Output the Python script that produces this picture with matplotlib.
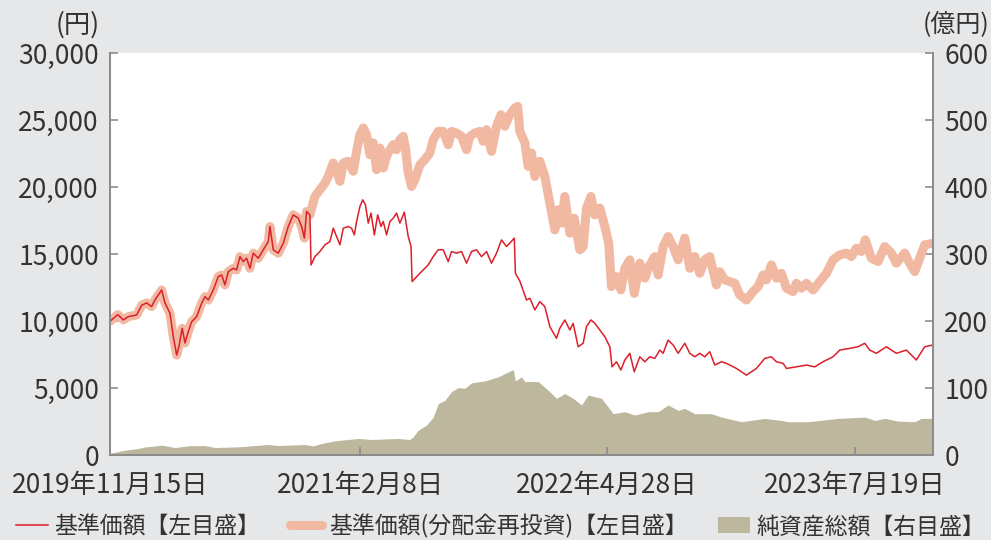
import matplotlib
matplotlib.use("Agg")
import matplotlib.pyplot as plt
import matplotlib.dates as mdates
import pandas as pd
from matplotlib.ticker import FixedLocator, FixedFormatter

plt.rcParams['font.family'] = ['Noto Sans CJK JP', 'DejaVu Sans']

# ---- data ----
nav_dates = [
    '2019-11-15', '2019-11-29', '2019-12-09', '2019-12-18', '2020-01-02', '2020-01-11',
    '2020-01-20', '2020-01-29', '2020-02-04', '2020-02-16', '2020-02-22', '2020-03-02',
    '2020-03-08', '2020-03-14', '2020-03-18', '2020-03-24', '2020-03-29', '2020-04-03',
    '2020-04-10', '2020-04-19', '2020-04-28', '2020-05-04', '2020-05-10', '2020-05-19',
    '2020-05-28', '2020-06-03', '2020-06-09', '2020-06-15', '2020-06-24', '2020-06-30',
    '2020-07-06', '2020-07-12', '2020-07-18', '2020-07-24', '2020-07-30', '2020-08-08',
    '2020-08-17', '2020-08-26', '2020-08-29', '2020-09-04', '2020-09-13', '2020-09-22',
    '2020-10-01', '2020-10-10', '2020-10-19', '2020-10-25', '2020-10-30', '2020-11-03',
    '2020-11-09', '2020-11-11', '2020-11-18', '2020-11-27', '2020-12-06', '2020-12-15',
    '2020-12-21', '2020-12-27', '2021-01-02', '2021-01-08', '2021-01-17', '2021-01-23',
    '2021-01-28', '2021-02-01', '2021-02-07', '2021-02-12', '2021-02-17', '2021-02-22',
    '2021-02-27', '2021-03-05', '2021-03-11', '2021-03-17', '2021-03-21', '2021-03-27',
    '2021-04-02', '2021-04-08', '2021-04-14', '2021-04-20', '2021-04-28', '2021-05-05',
    '2021-05-10', '2021-05-12', '2021-05-23', '2021-06-01', '2021-06-10', '2021-06-19',
    '2021-06-28', '2021-07-07', '2021-07-16', '2021-07-22', '2021-07-31', '2021-08-09',
    '2021-08-18', '2021-08-27', '2021-09-05', '2021-09-14', '2021-09-23', '2021-10-02',
    '2021-10-11', '2021-10-20', '2021-10-29', '2021-11-12', '2021-11-14', '2021-11-22',
    '2021-12-04', '2021-12-10', '2021-12-19', '2021-12-28', '2022-01-06', '2022-01-15',
    '2022-01-27', '2022-02-02', '2022-02-11', '2022-02-20', '2022-02-26', '2022-03-07',
    '2022-03-16', '2022-03-22', '2022-03-30', '2022-04-06', '2022-04-15', '2022-04-24',
    '2022-05-03', '2022-05-07', '2022-05-15', '2022-05-23', '2022-05-30', '2022-06-08',
    '2022-06-16', '2022-06-26', '2022-07-05', '2022-07-14', '2022-07-23', '2022-08-01',
    '2022-08-07', '2022-08-16', '2022-08-25', '2022-09-03', '2022-09-15', '2022-09-24',
    '2022-10-03', '2022-10-12', '2022-10-21', '2022-10-30', '2022-11-08', '2022-11-20',
    '2022-11-29', '2022-12-17', '2023-01-04', '2023-01-22', '2023-02-06', '2023-02-18',
    '2023-02-27', '2023-03-11', '2023-03-17', '2023-04-04', '2023-04-22', '2023-05-07',
    '2023-05-22', '2023-06-09', '2023-06-21', '2023-07-09', '2023-07-24', '2023-08-05',
    '2023-08-14', '2023-08-26', '2023-09-13', '2023-10-01', '2023-10-19', '2023-11-06',
    '2023-11-21', '2023-12-06']
nav_values = [
    10000, 10500, 10100, 10350, 10470, 11200,
    11370, 11100, 11600, 12340, 11370, 10600,
    8850, 7480, 8100, 9480, 8380, 9100,
    9970, 10350, 11350, 11840, 11590, 12340,
    13340, 13460, 12720, 13710, 13960, 13840,
    14830, 14460, 14710, 13960, 15090, 14710,
    15340, 15950, 17080, 15340, 15090, 15830,
    17080, 17950, 17700, 17080, 16210, 18200,
    17950, 14210, 14830, 15210, 15710, 15950,
    16950, 16330, 15710, 16950, 17080, 16950,
    16450, 17450, 18570, 19070, 18700, 17330,
    18080, 16450, 17950, 17080, 17450, 16450,
    17450, 17700, 18080, 17330, 18150, 16330,
    15580, 12960, 13460, 13840, 14210, 14830,
    15340, 15340, 14460, 15210, 15090, 15210,
    14340, 15210, 15340, 14830, 15210, 14340,
    15090, 16080, 15580, 16210, 13590, 13000,
    11590, 11720, 10850, 11470, 11090, 9600,
    8730, 9480, 10100, 9350, 9850, 8100,
    8360, 9600, 10100, 9850, 9350, 8850,
    8100, 6600, 6980, 6360, 7110, 7610,
    6230, 7350, 6980, 7350, 7230, 7850,
    7610, 8600, 8230, 7610, 8360, 7610,
    7350, 7610, 7350, 7730, 6730, 6980,
    6860, 6480, 5980, 6480, 7230, 7350,
    6980, 6860, 6480, 6600, 6730, 6600,
    6980, 7350, 7850, 7980, 8100, 8360,
    7850, 7610, 8100, 7610, 7850, 7110,
    8100, 8230]

# reinvested NAV: identical to NAV until the first distribution, then:
reinv_dates = [
    '2020-11-11', '2020-11-18', '2020-11-27', '2020-12-06', '2020-12-12', '2020-12-21',
    '2020-12-27', '2021-01-02', '2021-01-08', '2021-01-17', '2021-01-26', '2021-02-01',
    '2021-02-07', '2021-02-13', '2021-02-19', '2021-02-25', '2021-03-03', '2021-03-09',
    '2021-03-15', '2021-03-21', '2021-03-27', '2021-04-02', '2021-04-08', '2021-04-14',
    '2021-04-20', '2021-04-26', '2021-04-30', '2021-05-05', '2021-05-11', '2021-05-17',
    '2021-05-26', '2021-06-04', '2021-06-13', '2021-06-19', '2021-06-28', '2021-07-07',
    '2021-07-16', '2021-07-22', '2021-07-31', '2021-08-09', '2021-08-18', '2021-08-24',
    '2021-09-02', '2021-09-11', '2021-09-17', '2021-09-23', '2021-10-02', '2021-10-11',
    '2021-10-19', '2021-10-26', '2021-11-04', '2021-11-13', '2021-11-18', '2021-11-22',
    '2021-12-01', '2021-12-07', '2021-12-13', '2021-12-19', '2021-12-28', '2022-01-06',
    '2022-01-15', '2022-01-24', '2022-01-30', '2022-02-05', '2022-02-11', '2022-02-20',
    '2022-02-28', '2022-03-10', '2022-03-16', '2022-03-22', '2022-03-30', '2022-04-06',
    '2022-04-15', '2022-04-24', '2022-05-01', '2022-05-06', '2022-05-15', '2022-05-23',
    '2022-05-30', '2022-06-08', '2022-06-16', '2022-06-26', '2022-07-05', '2022-07-14',
    '2022-07-23', '2022-07-29', '2022-08-07', '2022-08-16', '2022-08-25', '2022-09-03',
    '2022-09-15', '2022-09-24', '2022-10-03', '2022-10-12', '2022-10-21', '2022-10-30',
    '2022-11-11', '2022-11-17', '2022-11-26', '2022-12-14', '2022-12-23', '2023-01-04',
    '2023-01-16', '2023-01-25', '2023-02-03', '2023-02-09', '2023-02-18', '2023-02-27',
    '2023-03-08', '2023-03-17', '2023-03-29', '2023-04-04', '2023-04-13', '2023-04-22',
    '2023-05-04', '2023-05-16', '2023-05-28', '2023-06-09', '2023-06-21', '2023-07-03',
    '2023-07-12', '2023-07-21', '2023-07-30', '2023-08-06', '2023-08-17', '2023-08-29',
    '2023-09-10', '2023-09-22', '2023-10-01', '2023-10-16', '2023-10-25', '2023-11-03',
    '2023-11-12', '2023-11-21', '2023-12-06']
reinv_values = [
    18300, 19320, 19820, 20320, 20820, 21820,
    21200, 20450, 21820, 21950, 21200, 22690,
    23940, 24440, 23940, 22440, 23320, 21320,
    22940, 21450, 22320, 22810, 23190, 22810,
    23560, 23810, 22940, 21070, 20070, 20570,
    21690, 22070, 22570, 23560, 24180, 24180,
    23190, 24180, 24060, 23810, 22810, 23810,
    24060, 24180, 23440, 24310, 22690, 24560,
    25430, 24560, 25430, 25930, 26050, 24180,
    23320, 21570, 22570, 20820, 21950, 20820,
    18830, 16830, 18330, 17330, 19320, 16580,
    17700, 15340, 15580, 18450, 19320, 17950,
    18450, 17080, 15830, 12590, 13340, 12340,
    13960, 14590, 12090, 14340, 13220, 14210,
    14830, 13460, 15580, 16330, 15580, 14590,
    16210, 13960, 14830, 13590, 14590, 14830,
    12720, 13700, 13090, 12840, 11970, 11590,
    12220, 12590, 13460, 13090, 14210, 13220,
    13590, 12470, 12220, 12840, 12470, 12840,
    12340, 12960, 13590, 14590, 14960, 15090,
    14830, 15460, 15210, 16080, 14710, 14460,
    15580, 15090, 14340, 15090, 14340, 13710,
    14710, 15710, 15830]

# net assets (億円, right axis)
aum_dates = [
    '2019-11-15', '2019-12-12', '2020-01-05', '2020-01-14', '2020-02-16', '2020-03-11',
    '2020-04-04', '2020-05-04', '2020-05-22', '2020-07-03', '2020-08-26', '2020-09-13',
    '2020-10-31', '2020-11-15', '2020-11-30', '2020-12-24', '2021-02-04', '2021-02-28',
    '2021-04-17', '2021-05-08', '2021-05-14', '2021-05-23', '2021-06-07', '2021-06-19',
    '2021-06-28', '2021-07-10', '2021-07-22', '2021-08-03', '2021-08-15', '2021-08-27',
    '2021-09-20', '2021-10-14', '2021-10-26', '2021-11-10', '2021-11-14', '2021-11-25',
    '2021-12-01', '2021-12-25', '2022-01-12', '2022-01-27', '2022-02-11', '2022-02-26',
    '2022-03-13', '2022-03-25', '2022-04-18', '2022-04-30', '2022-05-09', '2022-05-30',
    '2022-06-17', '2022-07-11', '2022-07-29', '2022-08-16', '2022-09-03', '2022-09-15',
    '2022-10-03', '2022-11-02', '2022-11-20', '2022-12-26', '2023-02-06', '2023-03-08',
    '2023-03-20', '2023-04-25', '2023-06-18', '2023-08-05', '2023-08-23', '2023-09-10',
    '2023-10-04', '2023-11-03', '2023-11-15', '2023-12-06']
aum_values = [
    3, 7.5, 10, 12, 15, 11.5,
    14, 14.5, 11.5, 12.5, 16, 14.5,
    16, 14, 17.5, 21.5, 25, 23.5,
    25, 23.5, 27.5, 37.5, 45, 57,
    77, 82, 95, 101, 100, 108,
    111, 117, 122, 128, 111, 117,
    110, 110, 97, 85, 92, 85,
    75, 90, 85, 72, 62, 65,
    60, 65, 65, 75, 67, 70,
    62, 62, 57, 50, 55, 52,
    50, 50, 55, 57, 52, 55,
    51, 50, 55, 55]

x_start, x_end = '2019-11-15', '2023-12-06'
xtick_dates = ['2019-11-15', '2021-02-08', '2022-04-28', '2023-07-19']
xtick_labels = ['2019年11月15日', '2021年2月8日', '2022年4月28日', '2023年7月19日']
left_ticks = [0, 5000, 10000, 15000, 20000, 25000, 30000]
left_labels = ['0', '5,000', '10,000', '15,000', '20,000', '25,000', '30,000']
right_ticks = [0, 100, 200, 300, 400, 500, 600]
right_labels = ['0', '100', '200', '300', '400', '500', '600']
legend_labels = ['基準価額【左目盛】', '基準価額(分配金再投資)【左目盛】', '純資産総額【右目盛】']

# ---- build series ----
nav_d = pd.to_datetime(nav_dates)
reinv_d = pd.to_datetime(reinv_dates)
pre = nav_d < reinv_d[0]
full_reinv_d = list(nav_d[pre]) + list(reinv_d)
full_reinv_v = [v for v, p in zip(nav_values, pre) if p] + reinv_values
aum_d = pd.to_datetime(aum_dates)

# ---- style ----
BG = '#e6e7e9'
RED = '#dc1f2a'
SALMON = '#f2b9a2'
AREA = '#bdb79e'
SPINE = '#8c8c8c'
TXT = '#333333'
FS = 19

fig = plt.figure(figsize=(9.91, 5.40), dpi=100, facecolor=BG)
ax2 = fig.add_axes([0.111, 0.157, 0.8305, 0.744])
ax = ax2.twinx()
ax2.set_facecolor('white')
ax.patch.set_visible(False)

area = ax2.fill_between(aum_d, 0, aum_values, color=AREA, linewidth=0, label=legend_labels[2])
l2, = ax.plot(full_reinv_d, full_reinv_v, color=SALMON, linewidth=6.5,
              solid_joinstyle='round', solid_capstyle='round', label=legend_labels[1])
l1, = ax.plot(nav_d, nav_values, color=RED, linewidth=1.1, label=legend_labels[0])

xl = (pd.Timestamp(x_start), pd.Timestamp(x_end))
ax.set_xlim(xl)
ax2.set_xlim(xl)

ax.yaxis.set_ticks_position('left')
ax.yaxis.set_label_position('left')
ax2.yaxis.set_ticks_position('right')
ax2.yaxis.set_label_position('right')

ax.set_ylim(0, 30000)
ax2.set_ylim(0, 600)
ax.yaxis.set_major_locator(FixedLocator(left_ticks))
ax.yaxis.set_major_formatter(FixedFormatter(left_labels))
ax2.yaxis.set_major_locator(FixedLocator(right_ticks))
ax2.yaxis.set_major_formatter(FixedFormatter(right_labels))

xt = [mdates.date2num(pd.Timestamp(d)) for d in xtick_dates]
ax2.xaxis.set_major_locator(FixedLocator(xt))
ax2.xaxis.set_major_formatter(FixedFormatter(xtick_labels))
ax.xaxis.set_major_locator(FixedLocator(xt))
ax.tick_params(axis='x', which='both', bottom=False, labelbottom=False, top=False, labeltop=False)

for a in (ax, ax2):
    for s in a.spines.values():
        s.set_color(SPINE)
        s.set_linewidth(1.4)
    a.spines['top'].set_visible(False)

ax.tick_params(axis='y', direction='in', length=6, width=1.2, color=SPINE,
               labelsize=FS, labelcolor=TXT, pad=8)
ax2.tick_params(axis='y', direction='in', length=6, width=1.2, color=SPINE,
                labelsize=FS, labelcolor=TXT, pad=8)
ax2.tick_params(axis='x', direction='in', length=6, width=1.2, color=SPINE,
                labelsize=FS, labelcolor=TXT, pad=12)

fig.text(0.101, 0.954, '(円)', ha='right', va='center', fontsize=FS, color=TXT)
fig.text(0.998, 0.954, '(億円)', ha='right', va='center', fontsize=18, color=TXT)

leg = fig.legend([l1, l2, area], legend_labels, loc='center', bbox_to_anchor=(0.505, 0.026),
                 ncol=3, frameon=False, fontsize=16.5, handlelength=1.4, handletextpad=0.3,
                 columnspacing=1.3, labelcolor=TXT)

fig.savefig('out.png', dpi=100, facecolor=BG)
